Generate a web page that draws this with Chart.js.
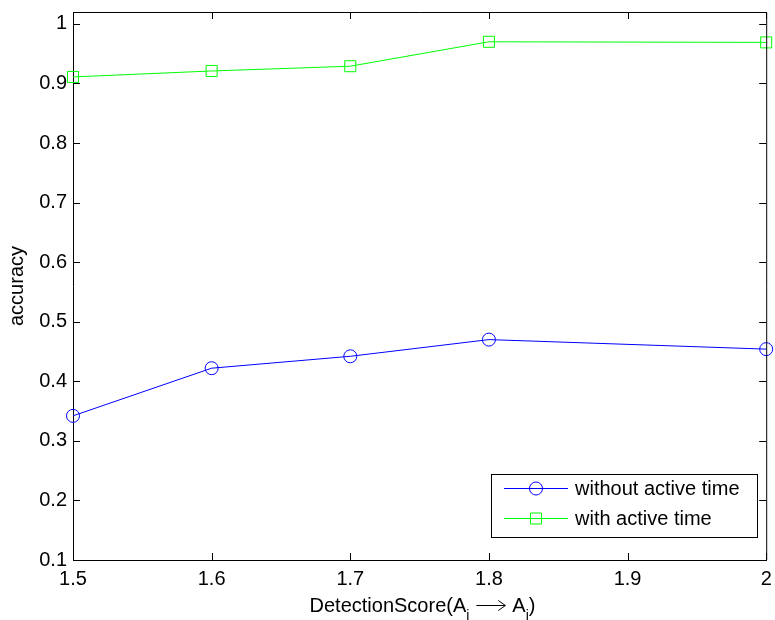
<!DOCTYPE html>
<html>
<head>
<meta charset="utf-8">
<script src="https://cdn.jsdelivr.net/npm/chart.js@4"></script>
<style>
  html, body { margin: 0; padding: 0; background: #fff; }
  #wrap { width: 775px; height: 620px; }
</style>
</head>
<body>
<div id="wrap"><canvas id="accChart" width="775" height="620"></canvas></div>
<script>
// data
const scores = [1.5, 1.6, 1.7, 1.8, 2.0];
const withoutActive = [0.342, 0.422, 0.442, 0.470, 0.454];
const withActive = [0.911, 0.921, 0.929, 0.970, 0.969];
const xTicks = [1.5, 1.6, 1.7, 1.8, 1.9, 2.0];
const yTicks = [0.1, 0.2, 0.3, 0.4, 0.5, 0.6, 0.7, 0.8, 0.9, 1.0];
const seriesNames = ['without active time', 'with active time'];

const FONT = 'Liberation Sans, Arial, Helvetica, sans-serif';

function pts(vals) {
    return scores.map((x, i) => ({ x: x, y: vals[i] }));
}

function fmt(v) {
    return String(+Number(v).toFixed(1));
}

// MATLAB-like box: inward ticks on all sides, top/right border, legend, axis titles
const matlabBox = {
    id: 'matlabBox',
    afterDatasetsDraw(chart) {
        const ctx = chart.ctx;
        const a = chart.chartArea;
        const xs = chart.scales.x, ys = chart.scales.y;
        ctx.save();
        ctx.strokeStyle = '#000';
        ctx.lineWidth = 1;
        ctx.beginPath();
        ctx.moveTo(a.left, a.top + 0.5);
        ctx.lineTo(a.right + 0.5, a.top + 0.5);
        ctx.lineTo(a.right + 0.5, a.bottom);
        ctx.stroke();
        const tl = 7;
        ctx.beginPath();
        xTicks.forEach(v => {
            const px = Math.round(xs.getPixelForValue(v)) + 0.5;
            ctx.moveTo(px, a.bottom); ctx.lineTo(px, a.bottom - tl);
            ctx.moveTo(px, a.top); ctx.lineTo(px, a.top + tl);
        });
        yTicks.forEach(v => {
            const py = Math.round(ys.getPixelForValue(v)) + 0.5;
            ctx.moveTo(a.left, py); ctx.lineTo(a.left + tl, py);
            ctx.moveTo(a.right, py); ctx.lineTo(a.right - tl, py);
        });
        ctx.stroke();

        // legend
        const lx = 491, ly = 474, lw = 266, lh = 63;
        ctx.fillStyle = '#fff';
        ctx.fillRect(lx, ly, lw, lh);
        ctx.strokeRect(lx + 0.5, ly + 0.5, lw, lh);
        const rows = [
            { y: 488, color: '#0000ff', shape: 'circle' },
            { y: 518, color: '#00ff00', shape: 'square' }
        ];
        ctx.font = '20px ' + FONT;
        ctx.textBaseline = 'middle';
        rows.forEach((r, i) => {
            ctx.strokeStyle = r.color;
            ctx.beginPath();
            ctx.moveTo(504, r.y + 0.5); ctx.lineTo(568, r.y + 0.5);
            ctx.stroke();
            ctx.beginPath();
            if (r.shape === 'circle') {
                ctx.arc(536, r.y + 0.5, 6.5, 0, Math.PI * 2);
            } else {
                ctx.rect(530.5, r.y - 5, 11, 11);
            }
            ctx.stroke();
            ctx.fillStyle = '#000';
            ctx.fillText(seriesNames[i], 575, r.y + 1);
        });

        // x axis title with subscripts and a long arrow
        ctx.fillStyle = '#000';
        ctx.strokeStyle = '#000';
        ctx.textBaseline = 'alphabetic';
        const big = '20px ' + FONT, small = '14px ' + FONT;
        const arrowW = 29, gap = 7;
        const parts = [
            ['DetectionScore(A', big, 0], ['i', small, 8], ['ARROW', null, 0],
            ['A', big, 0], ['i', small, 8], [')', big, 0]
        ];
        function w(p) {
            if (p[0] === 'ARROW') return arrowW + 2 * gap;
            ctx.font = p[1];
            return ctx.measureText(p[0]).width;
        }
        let total = 0;
        parts.forEach(p => { total += w(p); });
        let cx = 422.5 - total / 2;
        const base = 612;
        parts.forEach(p => {
            const pw = w(p);
            if (p[0] === 'ARROW') {
                const ay = Math.round(base - 7) + 0.5;
                ctx.lineWidth = 1;
                ctx.beginPath();
                ctx.moveTo(cx + gap, ay); ctx.lineTo(cx + gap + arrowW, ay);
                ctx.moveTo(cx + gap + arrowW - 7, ay - 5);
                ctx.lineTo(cx + gap + arrowW, ay);
                ctx.lineTo(cx + gap + arrowW - 7, ay + 5);
                ctx.stroke();
            } else {
                ctx.font = p[1];
                ctx.fillText(p[0], cx, base + p[2]);
            }
            cx += pw;
        });

        // y axis title
        ctx.font = '20px ' + FONT;
        ctx.translate(23, 286);
        ctx.rotate(-Math.PI / 2);
        ctx.textAlign = 'center';
        ctx.fillText('accuracy', 0, 0);
        ctx.restore();
    }
};

new Chart(document.getElementById('accChart'), {
    type: 'line',
    data: {
        datasets: [
            {
                label: seriesNames[0],
                data: pts(withoutActive),
                borderColor: '#0000ff',
                backgroundColor: 'rgba(0,0,0,0)',
                borderWidth: 1,
                pointStyle: 'circle',
                pointRadius: 6.5,
                pointBorderWidth: 1,
                pointBorderColor: '#0000ff',
                tension: 0,
                clip: false
            },
            {
                label: seriesNames[1],
                data: pts(withActive),
                borderColor: '#00ff00',
                backgroundColor: 'rgba(0,0,0,0)',
                borderWidth: 1,
                pointStyle: 'rect',
                pointRadius: 7.8,
                pointBorderWidth: 1,
                pointBorderColor: '#00ff00',
                tension: 0,
                clip: false
            }
        ]
    },
    options: {
        responsive: false,
        animation: false,
        layout: { padding: { top: 12, right: 7, left: 0, bottom: 0 } },
        plugins: {
            legend: { display: false },
            tooltip: { enabled: false }
        },
        scales: {
            x: {
                type: 'linear',
                min: 1.5,
                max: 2.0,
                afterFit(s) {
                    s.height = 60;
                    s.paddingLeft = 0;
                    s.paddingRight = 0;
                },
                afterBuildTicks(s) { s.ticks = xTicks.map(v => ({ value: v })); },
                grid: { display: false, drawTicks: false },
                border: { display: true, color: '#000', width: 1 },
                ticks: {
                    padding: 7,
                    color: '#000',
                    font: { family: FONT, size: 20 },
                    maxRotation: 0,
                    callback: v => fmt(v)
                }
            },
            y: {
                type: 'linear',
                min: 0.1,
                max: 1.02,
                afterFit(s) {
                    s.width = 73;
                    s.paddingTop = 0;
                    s.paddingBottom = 0;
                },
                afterBuildTicks(s) { s.ticks = yTicks.map(v => ({ value: v })); },
                grid: { display: false, drawTicks: false },
                border: { display: true, color: '#000', width: 1 },
                ticks: {
                    padding: 6,
                    color: '#000',
                    font: { family: FONT, size: 20 },
                    callback: v => fmt(v)
                }
            }
        }
    },
    plugins: [matlabBox]
});
</script>
</body>
</html>
